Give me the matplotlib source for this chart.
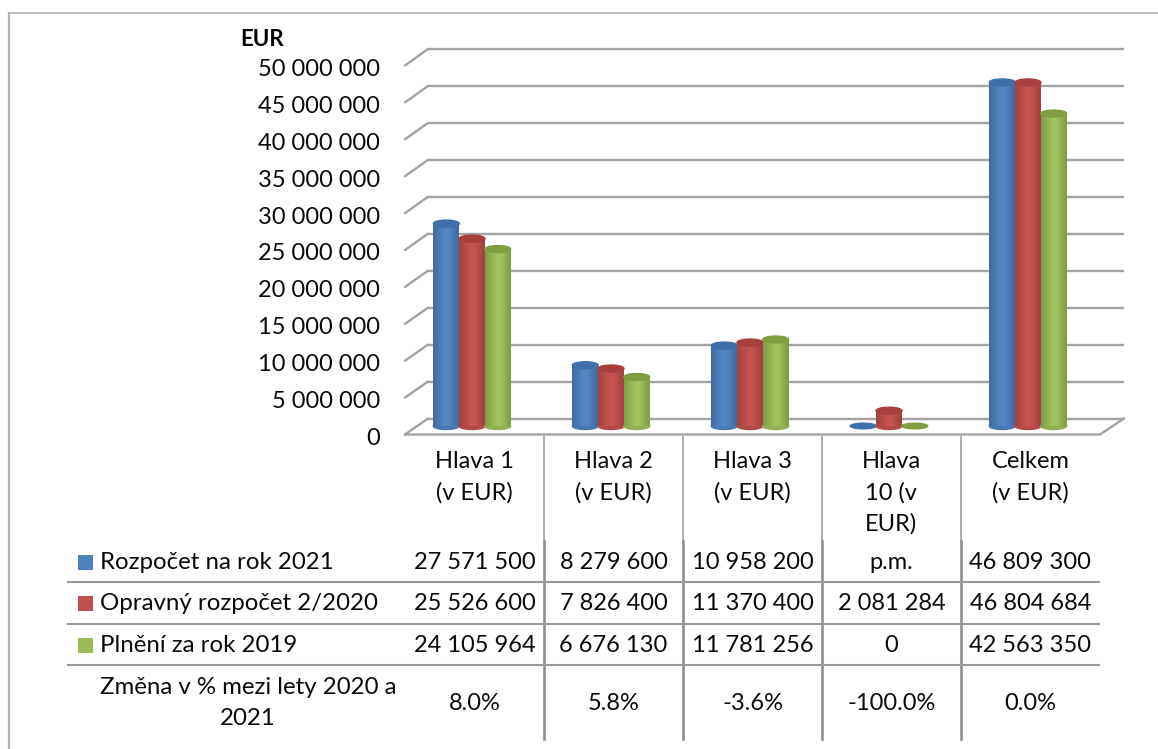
import numpy as np
import matplotlib
matplotlib.use('Agg')
import matplotlib.pyplot as plt
from matplotlib.colors import to_rgb
from matplotlib.patches import Ellipse, Rectangle
from matplotlib.transforms import ScaledTranslation

plt.rcParams['font.family'] = ['Lato', 'DejaVu Sans']

W, H = 1158, 749

categories = ['Hlava 1\n(v EUR)', 'Hlava 2\n(v EUR)', 'Hlava 3\n(v EUR)', 'Hlava\n10 (v\nEUR)', 'Celkem\n(v EUR)']
series_names = ['Rozpočet na rok 2021', 'Opravný rozpočet 2/2020', 'Plnění za rok 2019']
rozpocet = [27571500, 8279600, 10958200, None, 46809300]
opravny = [25526600, 7826400, 11370400, 2081284, 46804684]
plneni = [24105964, 6676130, 11781256, 0, 42563350]
zmena_label = 'Změna v % mezi lety 2020 a\n2021'
zmena = ['8.0%', '5.8%', '-3.6%', '-100.0%', '0.0%']
y_ticks = [0, 5000000, 10000000, 15000000, 20000000, 25000000, 30000000, 35000000, 40000000, 45000000, 50000000]

series = [rozpocet, opravny, plneni]
colors = ['#4F81BD', '#C0504D', '#9BBB59']
caps = ['#3F6FA8', '#A83F3C', '#7F9E42']
grey = '#a3a3a3'
text_col = '#0a0a0a'
FS = 17


def fmt(v):
    if v is None:
        return 'p.m.'
    return f'{v:,}'.replace(',', ' ')


def add_axes(fig, left, right, bottom, top):
    # position given in pixels from the top left corner
    return fig.add_axes([left / W, 1 - bottom / H, (right - left) / W, (bottom - top) / H])


fig = plt.figure(figsize=(W / 100, H / 100), dpi=100, facecolor='white')

# pixel overlay for the frame, floor and table
page = add_axes(fig, 0, W, H, 0)
page.set_xlim(0, W)
page.set_ylim(H, 0)
page.axis('off')

# back wall with the gridlines
wall = add_axes(fig, 428, 1124, 418.5, 49)
wall.set_ylim(0, 50000000)
wall.set_xlim(0, 1)
wall.axis('off')
wall.hlines(y_ticks, 0, 1, color=grey, lw=1.7, clip_on=False)

# front plane carries the value axis
front = add_axes(fig, 405, 1100, 434.5, 65.5)
front.set_ylim(0, 50000000)
front.set_xlim(0, 1)
front.patch.set_alpha(0)
for s in front.spines.values():
    s.set_visible(False)
front.set_xticks([])
front.set_yticks(y_ticks)
front.set_yticklabels([fmt(v) for v in y_ticks], fontsize=FS, color=text_col)
front.tick_params(axis='y', length=0, pad=18)
nudge = ScaledTranslation(0, -2 / 100, fig.dpi_scale_trans)
for lab in front.get_yticklabels():
    lab.set_transform(lab.get_transform() + nudge)

# depth lines joining the front ticks to the wall
for v in y_ticks:
    y0 = front.transData.transform((0, v))[1]
    y1 = wall.transData.transform((0, v))[1]
    page.plot([405, 428], [H - y0, H - y1], color=grey, lw=1.7, solid_capstyle='round')
page.plot([405, 1100, 1124], [434.5, 434.5, 418.5], color=grey, lw=1.7)

# frame, top and left only
page.plot([8.5, 8.5], [H, 13], color='#b4b4b4', lw=1.6)
page.plot([8.5, W], [13, 13], color='#b4b4b4', lw=1.2)

# cylinders
bars = add_axes(fig, 402.5, 1097.5, 426, 59)
bars.set_xlim(-0.5, 4.5)
bars.set_ylim(0, 50000000)
bars.axis('off')
bar_w = 0.187
step = 0.185
cap_h = 7 / 7.34 * 1000000
x_pos = np.arange(len(categories))

for i, vals in enumerate(series):
    base = np.array(to_rgb(colors[i]))
    shade = np.array([0.84, 0.92, 0.98, 1.04, 1.05, 1.0, 0.92, 0.84])
    grad = np.clip(np.outer(shade, base), 0, 1).reshape(1, -1, 3)
    for j, v in enumerate(vals):
        v = v or 0
        x = x_pos[j] + (i - 1) * step
        z = 3 + i
        if v > 0:
            rect = bars.bar(x, v, bar_w, color=colors[i], zorder=z, clip_on=False)[0]
            im = bars.imshow(grad, extent=(x - bar_w / 2, x + bar_w / 2, 0, v), aspect='auto',
                             interpolation='bicubic', zorder=z)
            im.set_clip_path(rect)
            bars.add_patch(Ellipse((x, 0), bar_w, cap_h, color=tuple(base * 0.93), zorder=z - 0.5, clip_on=False))
            bars.add_patch(Ellipse((x, v), bar_w, cap_h, color=caps[i], zorder=z + 0.1, clip_on=False))
        else:
            bars.add_patch(Ellipse((x, v), bar_w, cap_h * 0.8, color=caps[i], zorder=z + 0.1, clip_on=False))
bars.set_xlim(-0.5, 4.5)
bars.set_ylim(0, 50000000)

# table
col_edges = [405, 544, 683, 822, 960.7, 1100]
col_mid = [(col_edges[k] + col_edges[k + 1]) / 2 for k in range(5)]
row_y = [562.5, 603.5, 645.5]
for x in col_edges[1:-1]:
    page.plot([x, x], [435, 541], color='#a8a8a8', lw=1.3)
    page.plot([x, x], [541, 739], color='#8f8f8f', lw=1.9)
for y in [582, 623.5, 665]:
    page.plot([68, 1099], [y, y], color='#9a9a9a', lw=1.5)

for k, cat in enumerate(categories):
    page.text(col_mid[k], 451, cat, ha='center', va='top', fontsize=FS, color=text_col, linespacing=1.57)
for i, vals in enumerate(series):
    page.add_patch(Rectangle((78, row_y[i] - 7.5), 15, 15, color=colors[i], lw=0))
    page.text(100, row_y[i], series_names[i], ha='left', va='center', fontsize=17.3, color=text_col)
    for k, v in enumerate(vals):
        page.text(col_mid[k], row_y[i], fmt(v), ha='center', va='center', fontsize=FS, color=text_col)
page.text(248, 703, zmena_label, ha='center', va='center', fontsize=17.3, color=text_col, linespacing=1.6)
for k, s in enumerate(zmena):
    page.text(col_mid[k], 703, s, ha='center', va='center', fontsize=FS, color=text_col)
page.text(240, 39, 'EUR', ha='left', va='center', fontsize=16, fontweight='bold', color='#000000')

fig.savefig('out.png', dpi=100)
